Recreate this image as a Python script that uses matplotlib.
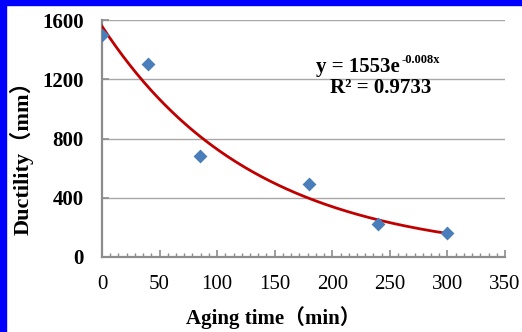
import numpy as np
import matplotlib
matplotlib.use("Agg")
import matplotlib.pyplot as plt
from matplotlib.patches import Rectangle
from matplotlib.ticker import MultipleLocator

# Data
aging_time = [0, 40, 85, 180, 240, 300]
ductility = [1500, 1300, 680, 490, 220, 160]
x_ticks = [0, 50, 100, 150, 200, 250, 300, 350]
y_ticks = [0, 400, 800, 1200, 1600]
eq_text = "y = 1553e"
eq_sup = "-0.008x"
r2_text = "R² = 0.9733"

W, H = 522, 332
fig = plt.figure(figsize=(W / 100, H / 100), dpi=100)
ax = fig.add_axes([102 / W, (H - 257) / H, (505 - 102) / W, (257 - 20) / H])

serif = ['Liberation Serif', 'Noto Sans CJK SC', 'DejaVu Sans']
grey = '#8c8c8c'

ax.set_xlim(0, 350)
ax.set_ylim(0, 1600)
ax.set_xticks(x_ticks)
ax.set_yticks(y_ticks)
ax.xaxis.set_minor_locator(MultipleLocator(50 / 7))
ax.yaxis.grid(True, color='#a8a8a8', linewidth=1.0)
ax.set_axisbelow(True)
for s in ['top', 'right']:
    ax.spines[s].set_visible(False)
for s in ['left', 'bottom']:
    ax.spines[s].set_color(grey)
    ax.spines[s].set_linewidth(1.6)

ax.tick_params(axis='both', which='major', direction='in', color=grey, length=5, width=1.2)
ax.tick_params(axis='x', which='minor', direction='in', color=grey, length=3, width=1.0)
ax.tick_params(axis='y', which='major', pad=13)
ax.tick_params(axis='x', which='major', pad=13)

for lab in ax.get_yticklabels():
    lab.set_fontfamily(serif)
    lab.set_fontweight('bold')
    lab.set_fontsize(15)
for lab in ax.get_xticklabels():
    lab.set_fontfamily(serif)
    lab.set_fontsize(15)

# Exponential trendline fitted to the data
b, log_a = np.polyfit(aging_time, np.log(ductility), 1)
xs = np.linspace(0, max(aging_time), 200)
ax.plot(xs, np.exp(log_a) * np.exp(b * xs), color='#c00000', linewidth=2.0, zorder=3)

# Points
ax.scatter(aging_time, ductility, marker='D', s=50, color='#4a7ebb', zorder=4, linewidths=0)

# Equation
t_main = fig.text(316 / W, 1 - 67 / H, eq_text, fontfamily=serif, fontweight='bold', fontsize=15,
                  ha='left', va='center')
ax.annotate(eq_sup, xy=(1.0, 0.5), xycoords=t_main, xytext=(1, 1), textcoords='offset points',
            fontfamily=serif, fontweight='bold', fontsize=9, ha='left', va='bottom')
fig.text(330 / W, 1 - 88 / H, r2_text, fontfamily=serif, fontweight='bold', fontsize=15,
         ha='left', va='center')

# Axis labels
fig.text(22 / W, 1 - 153 / H, 'Ductility（mm）', rotation=90, fontfamily=serif,
         fontweight='bold', fontsize=16, ha='center', va='center')
fig.text(273 / W, 1 - 318 / H, 'Aging time（min）', fontfamily=serif,
         fontweight='bold', fontsize=15, ha='center', va='center')

# Blue frame (left and top)
fig.patches.append(Rectangle((0, 0), 6 / W, 1, transform=fig.transFigure, color='#0000ff', zorder=10))
fig.patches.append(Rectangle((0, 1 - 5 / H), 1, 5 / H, transform=fig.transFigure, color='#0000ff', zorder=10))

fig.savefig('out.png', dpi=100)
